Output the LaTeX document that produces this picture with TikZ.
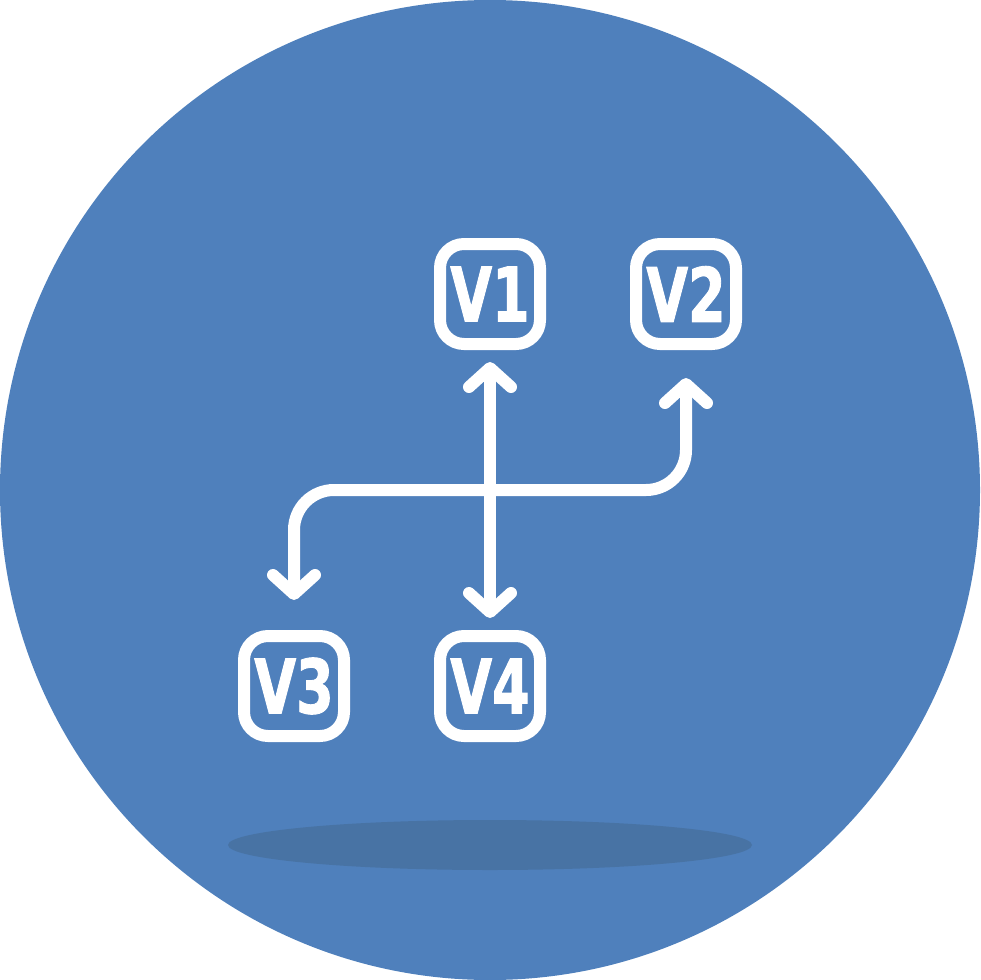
\documentclass[tikz,border=0pt]{standalone}
\usepackage{fontspec}
\usetikzlibrary{arrows.meta}
\newfontfamily\vfont[FakeStretch=0.72, BoldFont={DejaVu Sans Bold}, BoldFeatures={FakeBold=1.2}]{DejaVu Sans}
\definecolor{bgblue}{HTML}{4F80BC}
\definecolor{shadowblue}{HTML}{4873A4}
\tikzset{
  vbox/.style={draw=white, line width=12pt, rounded corners=24pt, minimum size=100pt,
    inner sep=0pt, text=white, font=\vfont\bfseries\fontsize{75}{75}\selectfont},
  conn/.style={draw=white, line width=12pt, line cap=round,
    {Straight Barb[length=19pt, width=42pt, round]}-{Straight Barb[length=19pt, width=42pt, round]}}
}
\begin{document}
\begin{tikzpicture}[x=1pt, y=-1pt]
	\useasboundingbox (0,0) rectangle (980,980);
	% Background
	\fill[bgblue] (490,490) circle (490);
	\fill[shadowblue] (490,845) ellipse (262 and 25);

	% Boxes
	\node[vbox] (V1) at (490,294) {V1};
	\node[vbox] (V2) at (686,294) {V2};
	\node[vbox] (V3) at (294,686) {V3};
	\node[vbox] (V4) at (490,686) {V4};
	\coordinate (mid) at (490,490);

	% Arrows
	\draw[conn, shorten <=12pt, shorten >=12pt] (V1.south) -- (V4.north);
	\draw[conn, rounded corners=40pt, shorten <=28pt, shorten >=30pt]
		(V2.south) -- (V2.south |- mid) -- (V3.north |- mid) -- (V3.north);
\end{tikzpicture}
\end{document}
